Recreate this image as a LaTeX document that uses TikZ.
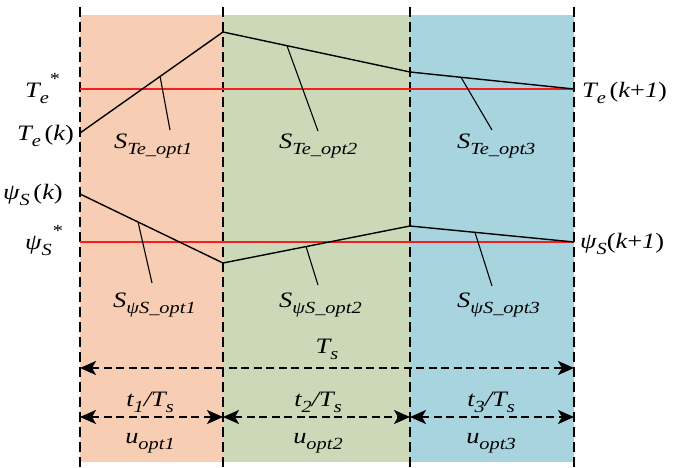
\documentclass[tikz,border=0pt]{standalone}
\usepackage{fontspec}
\setmainfont{Liberation Serif}[FakeStretch=1.2]
\usetikzlibrary{arrows.meta}
\definecolor{secA}{RGB}{247,205,179}
\definecolor{secB}{RGB}{204,217,185}
\definecolor{secC}{RGB}{168,212,224}
\definecolor{refred}{RGB}{245,30,30}
% lowered / raised indices in the text font
\newcommand\lsub[1]{\raisebox{-0.3em}{\fontsize{17}{17}\selectfont\itshape #1}}
\newcommand\lsup[1]{\raisebox{0.55em}{\fontsize{17}{17}\selectfont #1}}

\begin{document}
\begin{tikzpicture}[x=1pt,y=-1pt,
  lbl/.style={inner sep=0pt, font=\fontsize{22}{26}\selectfont\itshape},
  divider/.style={line width=2pt, dash pattern=on 10pt off 5pt},
  curve/.style={line width=1.4pt},
  leader/.style={line width=1.1pt},
  setpoint/.style={refred, line width=1.1pt},
  span/.style={line width=2pt, dash pattern=on 8pt off 4.5pt,
    {Stealth[length=16pt,width=14pt,inset=4pt]}-{Stealth[length=16pt,width=14pt,inset=4pt]}}
]
\useasboundingbox (0,0) rectangle (673,467);

% coloured time slots
\fill[secA] (80,15) rectangle (223,462);
\fill[secB] (223,15) rectangle (410,462);
\fill[secC] (410,15) rectangle (574,462);

% slot boundaries
\foreach \n/\x in {a/80,b/223,c/410,d/574}{
  \coordinate (\n top) at (\x,7);
  \coordinate (\n bot) at (\x,467);
}
\draw[divider] (atop) -- (abot);
\draw[divider] (btop) -- (bbot);
\draw[divider] (ctop) -- (cbot);
\draw[divider] (dtop) -- (dbot);

% reference values
\coordinate (tref0) at (80,89);  \coordinate (tref1) at (574,89);
\coordinate (fref0) at (80,242); \coordinate (fref1) at (574,242);
\draw[setpoint] (tref0) -- (tref1);
\draw[setpoint] (fref0) -- (fref1);

% torque trajectory
\coordinate (te0) at (80,133);
\coordinate (te1) at (223,32);
\coordinate (te2) at (410,72);
\coordinate (te3) at (574,89);
\draw[curve] (te0) -- (te1) -- (te2) -- (te3);

% flux trajectory
\coordinate (fl0) at (80,194);
\coordinate (fl1) at (223,263);
\coordinate (fl2) at (410,226);
\coordinate (fl3) at (574,242);
\draw[curve] (fl0) -- (fl1) -- (fl2) -- (fl3);

% slope points
\path (te0) -- (te1) coordinate[pos=0.56] (ts1);
\path (te1) -- (te2) coordinate[pos=0.342] (ts2);
\path (te2) -- (te3) coordinate[pos=0.311] (ts3);
\path (fl0) -- (fl1) coordinate[pos=0.406] (fs1);
\path (fl1) -- (fl2) coordinate[pos=0.444] (fs2);
\path (fl2) -- (fl3) coordinate[pos=0.396] (fs3);

\coordinate (tl1) at (170,130);
\coordinate (tl2) at (318,131);
\coordinate (tl3) at (492,130);
\coordinate (fll1) at (152,283);
\coordinate (fll2) at (318,285);
\coordinate (fll3) at (492,286);
\draw[leader] (ts1) -- (tl1);
\draw[leader] (ts2) -- (tl2);
\draw[leader] (ts3) -- (tl3);
\draw[leader] (fs1) -- (fll1);
\draw[leader] (fs2) -- (fll2);
\draw[leader] (fs3) -- (fll3);

% slope labels
\node[lbl, anchor=base west] (st1) at (114,148) {S\lsub{Te\_opt1}};
\node[lbl, anchor=base west] (st2) at (279,148) {S\lsub{Te\_opt2}};
\node[lbl, anchor=base west] (st3) at (457,148) {S\lsub{Te\_opt3}};
\node[lbl, anchor=base west] (sf1) at (113,307) {S\lsub{ψS\_opt1}};
\node[lbl, anchor=base west] (sf2) at (279,307) {S\lsub{ψS\_opt2}};
\node[lbl, anchor=base west] (sf3) at (457,307) {S\lsub{ψS\_opt3}};

% axis values
\node[lbl, anchor=base west] (teref) at (25,97) {T\lsub{e}\lsup{*}};
\node[lbl, anchor=base west] (tek) at (17,140) {T\lsub{e}\,\upshape(\itshape k\upshape)};
\node[lbl, anchor=base west] (fk) at (3,199) {ψ\lsub{S}\,\upshape(\itshape k\upshape)};
\node[lbl, anchor=base west] (fref) at (25,249) {ψ\lsub{S}\lsup{*}};
\node[lbl, anchor=base west] (tek1) at (582,97) {T\lsub{e}\,\upshape(\itshape k\upshape+\itshape 1\upshape)};
\node[lbl, anchor=base west] (fk1) at (580,248) {ψ\lsub{S}\upshape(\itshape k\upshape+\itshape 1\upshape)};

% timing spans
\coordinate (sp0) at (80,368);  \coordinate (sp1) at (574,368);
\draw[span] (sp0) -- (sp1);
\node[lbl, anchor=base] (tsl) at (327,353) {T\lsub{s}};

\coordinate (r0) at (80,417);
\coordinate (r1) at (223,417);
\coordinate (r2) at (410,417);
\coordinate (r3) at (574,417);
\draw[span] (r0) -- (r1);
\draw[span] (r1) -- (r2);
\draw[span] (r2) -- (r3);

\node[lbl, anchor=base] (d1) at (150,406) {t\lsub{1}/T\lsub{s}};
\node[lbl, anchor=base] (d2) at (318,406) {t\lsub{2}/T\lsub{s}};
\node[lbl, anchor=base] (d3) at (491,406) {t\lsub{3}/T\lsub{s}};
\node[lbl, anchor=base] (u1) at (150,443) {u\lsub{opt1}};
\node[lbl, anchor=base] (u2) at (318,443) {u\lsub{opt2}};
\node[lbl, anchor=base] (u3) at (491,443) {u\lsub{opt3}};
\end{tikzpicture}
\end{document}
